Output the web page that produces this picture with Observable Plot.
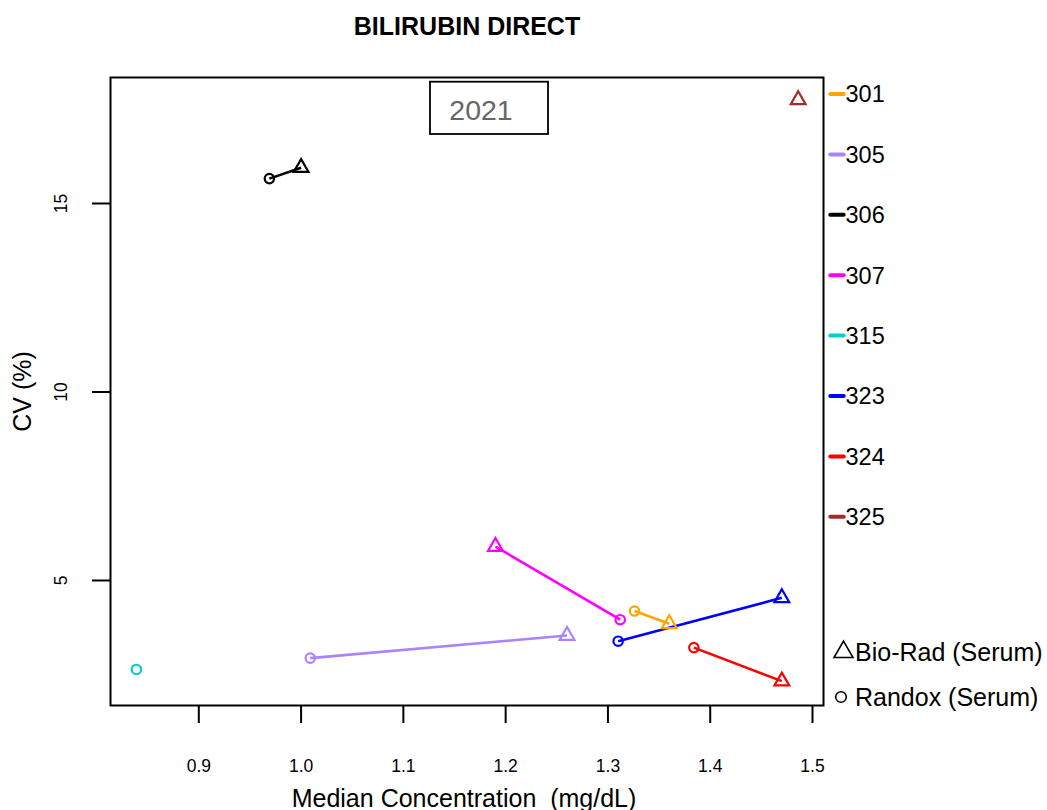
<!DOCTYPE html>
<html><head><meta charset="utf-8">
<script src="https://cdn.jsdelivr.net/npm/d3@7"></script>
<script src="https://cdn.jsdelivr.net/npm/@observablehq/plot@0.6"></script>
<style>
body{margin:0;background:#fff;}
#chart svg{display:block;}
</style></head><body><div id="chart"></div>
<script>
// ---- data ----
const labs = ["301", "305", "306", "307", "315", "323", "324", "325"];
const labColors = ["#FFA500", "#AB82FF", "#000000", "#FF00FF", "#00CED1", "#0000FF", "#FF0000", "#A52A2A"];
const bioRadX = [1.360, 1.260, 1.000, 1.190, null, 1.470, 1.470, 1.486];
const bioRadY = [3.85, 3.54, 15.95, 5.90, null, 4.54, 2.33, 17.75];
const randoxX = [1.326, 1.009, 0.969, 1.312, 0.839, 1.310, 1.384, null];
const randoxY = [4.19, 2.94, 15.66, 3.96, 2.64, 3.39, 3.22, null];
const xTicks = [0.9, 1.0, 1.1, 1.2, 1.3, 1.4, 1.5];
const yTicks = [5, 10, 15];
const materials = ["Bio-Rad (Serum)", "Randox (Serum)"];
const titleText = "BILIRUBIN DIRECT";
const yearText = "2021";
const xLabel = "Median Concentration\u00a0 (mg/dL)";
const yLabel = "CV (%)";

// ---- build tables ----
const bioRad = labs.map((lab, i) => ({lab, x: bioRadX[i], y: bioRadY[i]})).filter(d => d.x != null);
const randox = labs.map((lab, i) => ({lab, x: randoxX[i], y: randoxY[i]})).filter(d => d.x != null);
const pairs = labs.map((lab, i) => ({lab, x1: randoxX[i], y1: randoxY[i], x2: bioRadX[i], y2: bioRadY[i]}))
  .filter(d => d.x1 != null && d.x2 != null);

const FONT = "'Liberation Sans', Arial, Helvetica, sans-serif";
const W = 1047, H = 810, mL = 110, mR = 224, mT = 77, mB = 105;

function overlay(index, scales, values, dims) {
  const g = d3.create("svg:g").attr("font-family", FONT).attr("text-anchor", "start");
  const fx0 = dims.marginLeft, fx1 = dims.width - dims.marginRight;
  const fy0 = dims.marginTop, fy1 = dims.height - dims.marginBottom;
  const fxc = (fx0 + fx1) / 2;
  // year box
  g.append("rect").attr("x", fxc - 36.5).attr("y", fy0 + 4.7).attr("width", 118).attr("height", 52.3)
    .attr("fill", "white").attr("stroke", "black").attr("stroke-width", 1.8);
  g.append("text").attr("x", fxc + 14.5).attr("y", fy0 + 32.7).attr("dy", "0.36em")
    .attr("text-anchor", "middle").attr("font-size", 28.5).attr("fill", "#666").text(yearText);
  // lab legend
  labs.forEach((lab, i) => {
    const y = fy0 + 17 + i * 60.4;
    g.append("line").attr("x1", fx1 + 7.3).attr("x2", fx1 + 20.7).attr("y1", y).attr("y2", y)
      .attr("stroke", labColors[i]).attr("stroke-width", 4).attr("stroke-linecap", "round");
    g.append("text").attr("x", fx1 + 22.5).attr("y", y).attr("dy", "0.36em").attr("text-anchor", "start")
      .attr("font-size", 23.5).attr("fill", "black").text(lab);
  });
  // material legend
  const tri = d3.symbol(d3.symbolTriangle, 19 * 19 * Math.sqrt(3) / 4)();
  g.append("path").attr("d", tri).attr("transform", `translate(${fx1 + 20.5},${fy1 - 53})`)
    .attr("fill", "none").attr("stroke", "black").attr("stroke-width", 1.6);
  g.append("circle").attr("cx", fx1 + 18).attr("cy", fy1 - 8).attr("r", 5.3)
    .attr("fill", "none").attr("stroke", "black").attr("stroke-width", 1.6);
  g.append("text").attr("x", fx1 + 32).attr("y", fy1 - 53.5).attr("dy", "0.36em").attr("text-anchor", "start")
    .attr("font-size", 25).attr("fill", "black").text(materials[0]);
  g.append("text").attr("x", fx1 + 32).attr("y", fy1 - 8).attr("dy", "0.36em").attr("text-anchor", "start")
    .attr("font-size", 25).attr("fill", "black").text(materials[1]);
  return g.node();
}

const chart = Plot.plot({
  width: W, height: H,
  marginLeft: mL, marginRight: mR, marginTop: mT, marginBottom: mB,
  style: {fontFamily: FONT, background: "white", overflow: "visible", color: "black"},
  x: {domain: [0.81367, 1.51075], axis: null},
  y: {domain: [1.684, 18.342], axis: null},
  color: {domain: labs, range: labColors},
  marks: [
    Plot.axisX(xTicks, {anchor: "bottom", tickSize: 18, tickPadding: 42.5, lineAnchor: "middle",
      fontSize: 17.5, tickFormat: d3.format(".1f"), label: null, strokeWidth: 2}),
    Plot.axisY(yTicks, {anchor: "left", tickSize: 18, tickPadding: 31.5, tickRotate: -90,
      textAnchor: "middle", lineAnchor: "middle", fontSize: 17.5, label: null, strokeWidth: 2}),
    Plot.link(pairs, {x1: "x1", y1: "y1", x2: "x2", y2: "y2", stroke: "lab", strokeWidth: 2.6}),
    Plot.dot(bioRad, {x: "x", y: "y", stroke: "lab", symbol: "triangle", r: 5.5, strokeWidth: 2.2, fill: "none"}),
    Plot.dot(randox, {x: "x", y: "y", stroke: "lab", symbol: "circle", r: 4.7, strokeWidth: 2.2, fill: "none"}),
    Plot.frame({stroke: "black", strokeWidth: 2}),
    Plot.text([titleText], {frameAnchor: "top", dy: -51, lineAnchor: "middle", fontSize: 25, fontWeight: "bold", fill: "black"}),
    Plot.text([xLabel], {frameAnchor: "bottom", dy: 93, lineAnchor: "middle", fontSize: 25, fill: "black", dx: -3}),
    Plot.text([yLabel], {frameAnchor: "left", dx: -87.5, rotate: -90, textAnchor: "middle", lineAnchor: "middle", fontSize: 25, fill: "black"}),
    overlay
  ]
});
document.getElementById("chart").appendChild(chart);
</script>
</body></html>
